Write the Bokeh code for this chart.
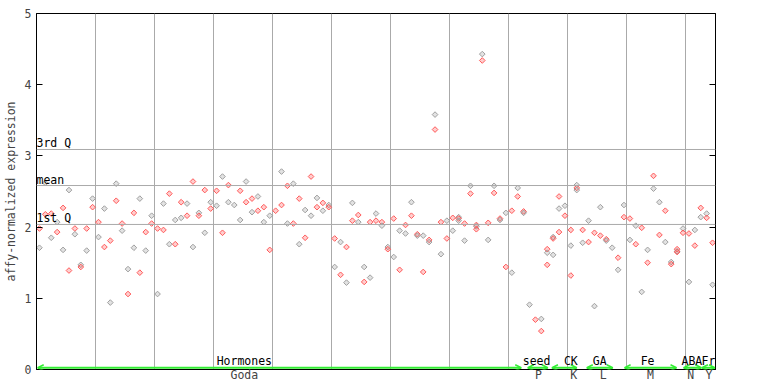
from bokeh.plotting import figure
from bokeh.models import (LinearAxis, Span, Label, LabelSet, ColumnDataSource, Arrow,
                          OpenHead, SingleIntervalTicker, Range1d, FixedTicker)
from bokeh.core.properties import value
from bokeh.embed import file_html
from bokeh.resources import INLINE

# ---- data: expression per sample (115 samples), up to 3 replicates ----
rep1 = [1.98, 2.62, 2.19, 2.07, 2.27, 2.52, 1.98, 1.47, 1.98, 2.40,
        2.07, 2.26, 1.81, 2.61, 2.05, 1.41, 2.20, 2.40, 1.93, 2.16,
        1.98, 2.33, 2.47, 2.10, 2.35, 2.33, 2.64, 2.20, 2.52, 2.35,
        2.51, 2.71, 2.59, 2.31, 2.51, 2.64, 2.40, 2.43, 2.28, 2.16,
        2.23, 2.78, 2.58, 2.61, 2.40, 2.24, 2.71, 2.41, 2.34, 2.31,
        1.84, 1.79, 1.72, 2.34, 2.17, 1.44, 2.07, 2.19, 2.07, 1.72,
        2.12, 1.95, 2.03, 2.35, 1.90, 1.88, 1.82, 3.58, 2.07, 2.09,
        2.13, 2.14, 2.05, 2.58, 2.03, 4.43, 2.06, 2.58, 2.12, 2.20,
        2.23, 2.55, 2.22, 0.91, 0.70, 0.71, 1.69, 1.86, 2.43, 2.30,
        1.96, 2.59, 1.96, 2.09, 1.92, 2.28, 1.83, 1.71, 1.57, 2.31,
        2.12, 2.02, 1.99, 1.68, 2.72, 2.35, 2.23, 1.51, 1.69, 1.98,
        1.91, 1.96, 2.27, 2.19, 1.78]
rep2 = [1.71, 2.18, 1.85, 1.93, 1.68, 1.39, 1.90, 1.44, 1.67, 2.28,
        1.86, 1.72, 0.94, 2.37, 1.95, 1.06, 1.71, 1.36, 1.67, 2.05,
        1.06, 1.96, 1.76, 1.76, 2.13, 2.16, 1.72, 2.16, 1.92, 2.26,
        2.30, 1.92, 2.35, None, 2.10, 2.35, 2.21, 2.23, 2.07, 1.68,
        None, 2.31, 2.05, 2.05, 1.76, 1.85, 2.16, 2.28, 2.23, 2.28,
        1.44, 1.33, 1.22, 2.09, 2.07, 1.23, 1.29, 2.09, 2.02, 1.69,
        1.58, 1.40, 1.91, 2.16, 1.88, 1.37, 1.79, 3.37, 1.62, 1.84,
        1.95, 2.12, 1.81, 2.47, 2.01, 4.34, 1.82, 2.48, 2.10, 1.44,
        1.36, 2.43, 2.20, None, None, 0.54, 1.64, 1.84, 2.26, 2.16,
        1.74, 2.55, 1.78, 1.79, 0.89, 1.88, 1.81, None, 1.40, 2.14,
        1.82, 1.76, 1.09, 1.50, 2.54, 1.89, 1.79, 1.48, 1.66, 1.92,
        1.23, 1.74, 2.14, 2.13, 1.19]
rep3_samples = [71, 74, 86, 87, 88, 90, 91, 108]
rep3_values = [2.09, 1.97, 1.47, 1.61, 1.93, 1.32, 2.52, 1.65]

ref_values = [3.09, 2.584, 2.037]
ref_labels = ["3rd Q", "mean", "1st Q"]

group_names = ["Hormones", "seed", "CK", "GA", "Fe", "ABA", "Fr"]
group_sources = ["Goda", "P", "K", "L", "M", "N", "Y"]
group_start = [0.2, 83.2, 87.3, 93.2, 99.6, 109.6, 112.7]
group_end = [82.1, 86.6, 91.5, 97.6, 108.4, 112.6, 114.9]
group_label_x = [35.2, 84.7, 90.5, 95.4, 103.5, 111.0, 113.8]
source_label_x = [35.2, 85.0, 91.0, 96.0, 104.0, 110.8, 113.9]
y_ticks = [0, 1, 2, 3, 4, 5]

n_samples = len(rep1)

# ---- build point table ----
xs, ys, cols = [], [], []
RED, GRAY = "#ff5a5a", "#a0a0a0"
for i in range(n_samples):
    vals = [rep1[i], rep2[i]]
    if i in rep3_samples:
        vals.append(rep3_values[rep3_samples.index(i)])
    for k, v in enumerate(vals):
        if v is None:
            continue
        xs.append(i + 0.5)
        ys.append(v)
        cols.append(RED if (i + k) % 2 == 0 else GRAY)
pts = ColumnDataSource(dict(x=xs, y=ys, c=cols))

FONT = "DejaVu Sans Mono"
FS = "11.5px"

p = figure(width=760, height=384,
           x_range=Range1d(0, n_samples), y_range=Range1d(0, 5),
           output_backend="svg", toolbar_location=None,
           min_border_left=29, min_border_right=45, min_border_top=13, min_border_bottom=15,
           background_fill_color="white", border_fill_color="white")
p.outline_line_color = "black"
p.outline_line_width = 1
p.ygrid.visible = False

# bottom axis carries the data-source labels
xa = p.xaxis[0]
xa.ticker = FixedTicker(ticks=source_label_x)
xa.major_label_overrides = {x: t for x, t in zip(source_label_x, group_sources)}
xa.major_tick_line_color = None
xa.major_tick_in = 0
xa.major_tick_out = 0
xa.minor_tick_line_color = None
xa.minor_tick_in = 0
xa.minor_tick_out = 0
xa.axis_label_standoff = 0
xa.axis_line_color = "black"
xa.major_label_standoff = -2
xa.major_label_text_font = FONT
xa.major_label_text_font_size = FS

p.xgrid.ticker = SingleIntervalTicker(interval=10)
p.xgrid.grid_line_color = "#aaaaaa"
p.xgrid.grid_line_width = 1

ya = p.yaxis[0]
ya.ticker = FixedTicker(ticks=y_ticks)
ya.major_tick_in = 6
ya.major_tick_out = 0
ya.minor_tick_line_color = None
ya.minor_tick_out = 0
ya.axis_line_color = "black"
ya.major_label_text_font = FONT
ya.major_label_text_font_size = FS
ya.major_label_standoff = 5
ya.axis_label = "affy-normalized expression"
ya.axis_label_text_font = FONT
ya.axis_label_text_font_size = FS
ya.axis_label_text_font_style = "normal"
ya.axis_label_standoff = 4

ra = LinearAxis(ticker=FixedTicker(ticks=y_ticks), major_tick_in=6, major_tick_out=0,
                minor_tick_line_color=None, minor_tick_out=0,
                major_label_overrides={t: " " for t in y_ticks},
                major_label_text_font=FONT, major_label_text_font_size=FS,
                major_label_standoff=0, axis_line_color="black")
p.add_layout(ra, "right")

for v, lab in zip(ref_values, ref_labels):
    p.add_layout(Span(location=v, dimension="width", line_color="#aaaaaa", line_width=1))
    p.add_layout(Label(x=0, y=v, text=lab, text_font=FONT, text_font_size=FS,
                       text_baseline="bottom", text_align="left", text_color="black",
                       x_offset=0, y_offset=-1))

p.scatter("x", "y", source=pts, marker="square", angle=0.785398, size=4.0,
          line_color="c", fill_color="c", fill_alpha=0.3, line_width=1)

GREEN = "#33ee33"
for s, e in zip(group_start, group_end):
    p.add_layout(Arrow(x_start=s, x_end=e, y_start=0.025, y_end=0.025,
                       line_color=GREEN, line_width=2,
                       start=OpenHead(size=6, line_color=GREEN, line_width=1.5),
                       end=OpenHead(size=6, line_color=GREEN, line_width=1.5)))

gsrc = ColumnDataSource(dict(x=group_label_x, y=[0] * len(group_names), t=group_names))
p.add_layout(LabelSet(x="x", y="y", text="t", source=gsrc, text_font=value(FONT),
                      text_font_size=value(FS), text_align="center", text_baseline="bottom",
                      y_offset=2, text_color="black"))

open("out.html", "w").write(file_html(p, INLINE))
